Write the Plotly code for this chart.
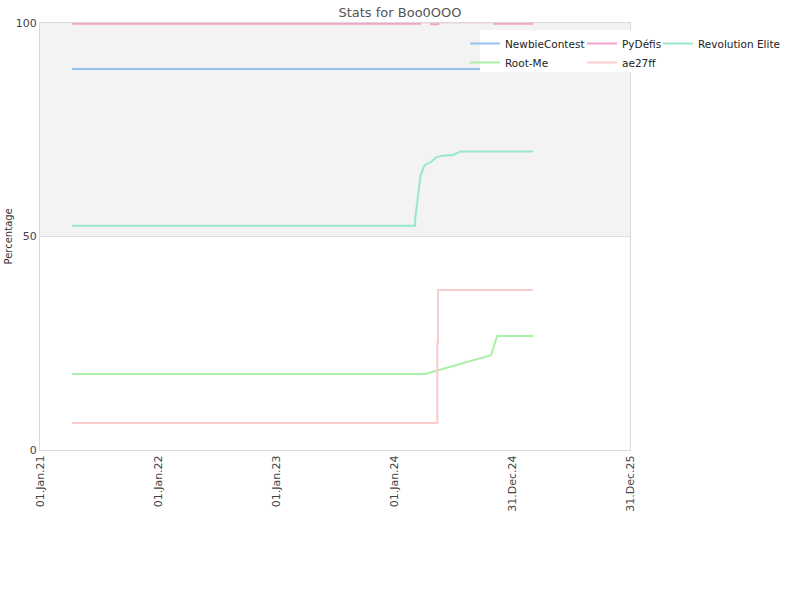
import plotly.graph_objects as go

# ---- data ----
newbie_dates = ["2021-04-10", "2025-03-06"]
newbie_vals = [89.2, 89.2]

pydefis_dates = ["2021-04-10", "2024-03-22", "2024-04-25", "2024-05-17", "2024-11-06", "2025-03-06"]
pydefis_vals = [99.8, 100.2, 99.7, 100.2, 99.8, 99.8]

revo_dates = ["2021-04-10", "2024-03-06", "2024-03-07", "2024-03-11", "2024-03-15", "2024-03-20",
              "2024-03-23", "2024-03-27", "2024-03-31", "2024-04-06", "2024-04-15", "2024-04-24",
              "2024-05-11", "2024-05-31", "2024-07-01", "2024-07-17", "2024-07-23", "2025-03-06"]
revo_vals = [52.5, 52.5, 54.3, 56.7, 59.2, 61.4,
             64.4, 64.9, 66.0, 66.7, 67.2, 67.4,
             68.6, 68.9, 69.1, 69.6, 69.9, 69.9]

rootme_dates = ["2021-04-10", "2024-04-06", "2024-10-27", "2024-11-15", "2025-03-06"]
rootme_vals = [17.8, 17.8, 22.2, 26.7, 26.7]

ae_dates = ["2021-04-10", "2024-05-13", "2024-05-14", "2024-05-16", "2025-03-06"]
ae_vals = [6.3, 6.3, 25.1, 37.5, 37.5]

tick_dates = ["2021-01-01", "2022-01-01", "2023-01-01", "2024-01-01", "2024-12-31", "2025-12-31"]
tick_labels = ["01.Jan.21", "01.Jan.22", "01.Jan.23", "01.Jan.24", "31.Dec.24", "31.Dec.25"]
y_ticks = [0, 50, 100]

FONT = "DejaVu Sans"

fig = go.Figure()
series = [
    ("NewbieContest", newbie_dates, newbie_vals, "#94c2f2", "linear", "legend"),
    ("PyDéfis", pydefis_dates, pydefis_vals, "#f5a3cb", "hv", "legend2"),
    ("Revolution Elite", revo_dates, revo_vals, "#97e8c6", "linear", "legend3"),
    ("Root-Me", rootme_dates, rootme_vals, "#a9f0a6", "linear", "legend"),
    ("ae27ff", ae_dates, ae_vals, "#f9cccc", "hv", "legend2"),
]
for name, xs, ys, col, shape, lg in series:
    fig.add_trace(go.Scatter(x=xs, y=ys, name=name, mode="lines",
                             line=dict(color=col, width=2, shape=shape),
                             legend=lg))

W, H = 800, 600
L, R, T, B = 40, 170, 23, 150
pw = W - L - R
ph = H - T - B

def px_x(p):
    return (p - L) / pw

def px_y(p):
    return (H - B - p) / ph

leg_common = dict(bgcolor="rgba(0,0,0,0)", font=dict(family=FONT, size=10.5, color="#222"),
                  orientation="v", xanchor="left", yanchor="top", borderwidth=0,
                  tracegroupgap=0)

fig.update_layout(
    width=W, height=H,
    margin=dict(l=L, r=R, t=T, b=B, autoexpand=False),
    paper_bgcolor="white", plot_bgcolor="white",
    font=dict(family=FONT, size=11, color="#444"),
    title=dict(text="Stats for Boo0OOO", x=0.5, xref="container", xanchor="center",
               y=1 - 12 / H, yanchor="middle",
               font=dict(family=FONT, size=13, color="#555")),
    legend=dict(x=px_x(465), y=px_y(29), **leg_common),
    legend2=dict(x=px_x(582), y=px_y(29), **leg_common),
    legend3=dict(x=px_x(658), y=px_y(29), **leg_common),
    shapes=[
        dict(type="rect", xref="paper", yref="y", x0=0, x1=1, y0=50, y1=100,
             fillcolor="#f3f3f3", line=dict(width=0), layer="below"),
        dict(type="rect", xref="paper", yref="paper", x0=px_x(480), x1=px_x(800),
             y0=px_y(72), y1=px_y(30), fillcolor="white", line=dict(width=0),
             layer="above"),
    ],
    annotations=[dict(text="Percentage", xref="paper", yref="paper",
                      x=px_x(8), y=0.5, xanchor="center", yanchor="middle",
                      textangle=-90, showarrow=False,
                      font=dict(family=FONT, size=10, color="#333"))],
)

fig.update_xaxes(type="date", range=["2021-01-01", "2025-12-31"],
                 tickmode="array", tickvals=tick_dates, ticktext=tick_labels,
                 tickangle=-90, showgrid=False, zeroline=False,
                 showline=True, mirror=True, linecolor="#dadada", linewidth=1,
                 ticks="", tickfont=dict(family=FONT, size=11, color="#444"))
fig.update_yaxes(range=[0, 100], tickmode="array", tickvals=y_ticks,
                 showgrid=True, gridcolor="#dedede", zeroline=False,
                 showline=True, mirror=True, linecolor="#dadada", linewidth=1,
                 ticks="", tickfont=dict(family=FONT, size=11, color="#444"))

fig.write_html("out.html")
